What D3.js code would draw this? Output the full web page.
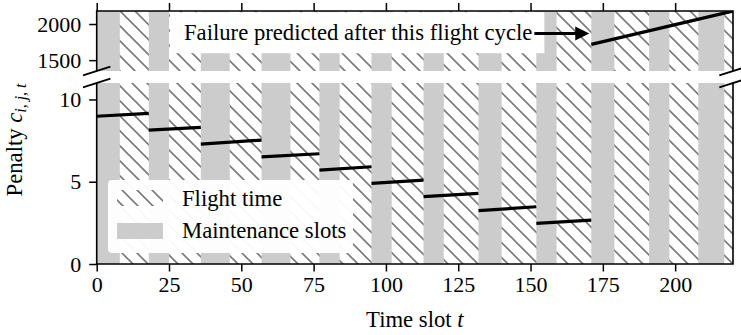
<!DOCTYPE html>
<html><head><meta charset="utf-8">
<script src="https://cdn.jsdelivr.net/npm/d3@7"></script>
<style>
body{margin:0;background:#fff;}
svg text{font-family:"Liberation Serif","Times New Roman",serif;fill:#000;}
</style>
</head><body>
<svg id="chart" width="741" height="335"></svg>
<script>
// ---- data ----
const maintStart = [0, 18, 36, 57, 77, 95, 113, 132, 152, 171, 191, 208];
const maintEnd   = [8, 25, 46, 67, 84, 102, 120, 140, 159, 179, 198, 217];
const cycleStart = [0, 18, 36, 57, 77, 95, 113, 132, 152, 171];
const cycleEnd   = [18, 36, 57, 77, 95, 113, 132, 152, 171, 220];
const penaltyStart = [8.98, 8.14, 7.29, 6.51, 5.71, 4.90, 4.09, 3.24, 2.47, 1718];
const penaltyEnd   = [9.15, 8.30, 7.53, 6.70, 5.91, 5.10, 4.29, 3.48, 2.67, 2180];
const xTicks = [0, 25, 50, 75, 100, 125, 150, 175, 200];
const yTicksLow = [0, 5, 10];
const yTicksHigh = [1500, 2000];
const legendLabels = ["Flight time", "Maintenance slots"];
const annotationText = "Failure predicted after this flight cycle";
const annotationTextPos = [90.4, 1870];
const annotationTarget = [170.3, 1870];
const xLabel = "Time slot ";
const yLabel = "Penalty ";

// ---- layout ----
const L = 96.7, R = 733, hiTop = 11, hiBot = 71, loTop = 83, loBot = 264;
const tickFs = 22, textFs = 22.7, tickLen = 7.5;
const x = d3.scaleLinear([0, 220], [L, R]);
const yLo = d3.scaleLinear([0, 11], [loBot, loTop]);
const yHi = d3.scaleLinear([1350, 2180], [hiBot, hiTop]);
const gray = "#cccccc";

const svg = d3.select("#chart");
const defs = svg.append("defs");
const s = 15;
const pat = defs.append("pattern").attr("id", "hatch").attr("patternUnits", "userSpaceOnUse")
  .attr("width", s).attr("height", s).attr("patternTransform", "translate(4,0)");
pat.append("rect").attr("width", s).attr("height", s).attr("fill", "#fff");
pat.append("path").attr("d", `M0,0L${s},${s}M${-s/2},${s/2}L${s/2},${s*1.5}M${s/2},${-s/2}L${s*1.5},${s/2}`)
  .attr("stroke", "#7a7a7a").attr("stroke-width", 1.6);

function panel(y, top, bot, id) {
  defs.append("clipPath").attr("id", id).append("rect")
    .attr("x", L).attr("y", top).attr("width", R - L).attr("height", bot - top);
  const g = svg.append("g").attr("clip-path", `url(#${id})`);
  g.append("rect").attr("x", x(0)).attr("y", top).attr("width", x(220) - x(0)).attr("height", bot - top)
    .attr("fill", "url(#hatch)");
  g.selectAll("rect.m").data(maintStart).join("rect").attr("class", "m")
    .attr("x", d => x(d)).attr("width", (d, i) => x(maintEnd[i]) - x(d))
    .attr("y", top).attr("height", bot - top).attr("fill", gray);
  return g;
}
const gHi = panel(yHi, hiTop, hiBot, "clipHi");
const gLo = panel(yLo, loTop, loBot, "clipLo");

// penalty segments
cycleStart.forEach((c, i) => {
  const hi = penaltyStart[i] > 11;
  const y = hi ? yHi : yLo;
  const g = hi ? gHi : gLo;
  g.append("line").attr("x1", x(c)).attr("x2", x(cycleEnd[i]))
    .attr("y1", y(penaltyStart[i])).attr("y2", y(penaltyEnd[i]))
    .attr("stroke", "#000").attr("stroke-width", 3.2);
});

// axes
const fmt = d3.format("d");
const axB = d3.axisBottom(x).tickValues(xTicks).tickFormat(fmt).tickSizeInner(tickLen).tickSizeOuter(0).tickPadding(5);
const axT = d3.axisTop(x).tickValues(xTicks).tickFormat("").tickSizeInner(tickLen + 0.5).tickSizeOuter(0);
const axLo = d3.axisLeft(yLo).tickValues(yTicksLow).tickFormat(fmt).tickSizeInner(tickLen).tickSizeOuter(0).tickPadding(8);
const axHi = d3.axisLeft(yHi).tickValues(yTicksHigh).tickFormat(fmt).tickSizeInner(tickLen).tickSizeOuter(0).tickPadding(8);

function styleAxis(g) {
  g.attr("font-family", null);
  g.select(".domain").remove();
  g.selectAll("line").attr("stroke", "#000").attr("stroke-width", 1.5);
  g.selectAll("text").attr("font-size", tickFs);
}
svg.append("g").attr("transform", `translate(0,${loBot})`).call(axB).call(styleAxis);
svg.append("g").attr("transform", `translate(0,${hiTop})`).call(axT).call(styleAxis);
svg.append("g").attr("transform", `translate(${L},0)`).call(axLo).call(styleAxis);
svg.append("g").attr("transform", `translate(${L},0)`).call(axHi).call(styleAxis);

// spines
const sp = svg.append("g").attr("stroke", "#000").attr("stroke-width", 1.6).attr("fill", "none");
sp.append("path").attr("d", `M${L},${hiBot}V${hiTop}H${R}V${hiBot}`);
sp.append("path").attr("d", `M${L},${loTop}V${loBot}H${R}V${loTop}`);

// break marks
const bm = svg.append("g").attr("stroke", "#000").attr("stroke-width", 1.8);
[L, R].forEach(cx => [hiBot, loTop].forEach(cy => {
  bm.append("line").attr("x1", cx - 13.7).attr("y1", cy + 4.4).attr("x2", cx + 13.7).attr("y2", cy - 4.4);
}));

// annotation
const ann = svg.append("g");
const tx = x(annotationTextPos[0]), ty = yHi(annotationTextPos[1]);
const boxR = ann.append("rect").attr("fill", "#fff");
const t = ann.append("text").attr("x", tx).attr("y", ty).attr("text-anchor", "middle")
  .attr("dy", "0.3em").attr("font-size", textFs).text(annotationText);
const bb = t.node().getBBox();
boxR.attr("x", bb.x - 14).attr("y", bb.y - 8).attr("width", bb.width + 26).attr("height", bb.height + 16);
const ax0 = bb.x + bb.width + 2, axTip = x(annotationTarget[0]), ay = yHi(annotationTarget[1]);
const headL = 14, headW = 7;
ann.append("line").attr("x1", ax0).attr("x2", axTip - headL + 1).attr("y1", ay).attr("y2", ay)
  .attr("stroke", "#000").attr("stroke-width", 3);
ann.append("path").attr("d", `M${axTip},${ay}L${axTip - headL},${ay - headW}L${axTip - headL},${ay + headW}Z`).attr("fill", "#000");

// legend
const lg = svg.append("g").attr("transform", "translate(108,180)");
lg.append("rect").attr("width", 245).attr("height", 73).attr("rx", 4).attr("fill", "#fff").attr("fill-opacity", 0.95);
lg.append("rect").attr("x", 9).attr("y", 10).attr("width", 46).attr("height", 16).attr("fill", "url(#hatch)");
lg.append("rect").attr("x", 9).attr("y", 43).attr("width", 46).attr("height", 16).attr("fill", gray);
legendLabels.forEach((lab, i) => {
  lg.append("text").attr("x", 74).attr("y", 25.7 + i * 32.6).attr("font-size", textFs).text(lab);
});

// axis labels
const xl = svg.append("text").attr("x", (L + R) / 2).attr("y", 326.7).attr("text-anchor", "middle").attr("font-size", textFs);
xl.append("tspan").text(xLabel);
xl.append("tspan").attr("font-style", "italic").text("t");

const yl = svg.append("text").attr("transform", "translate(22,140) rotate(-90)").attr("text-anchor", "middle").attr("font-size", textFs);
yl.append("tspan").text(yLabel);
yl.append("tspan").attr("font-style", "italic").text("c");
yl.append("tspan").attr("font-style", "italic").attr("font-size", textFs * 0.7).attr("dy", 4).text("i, j, t");
</script>
</body></html>
